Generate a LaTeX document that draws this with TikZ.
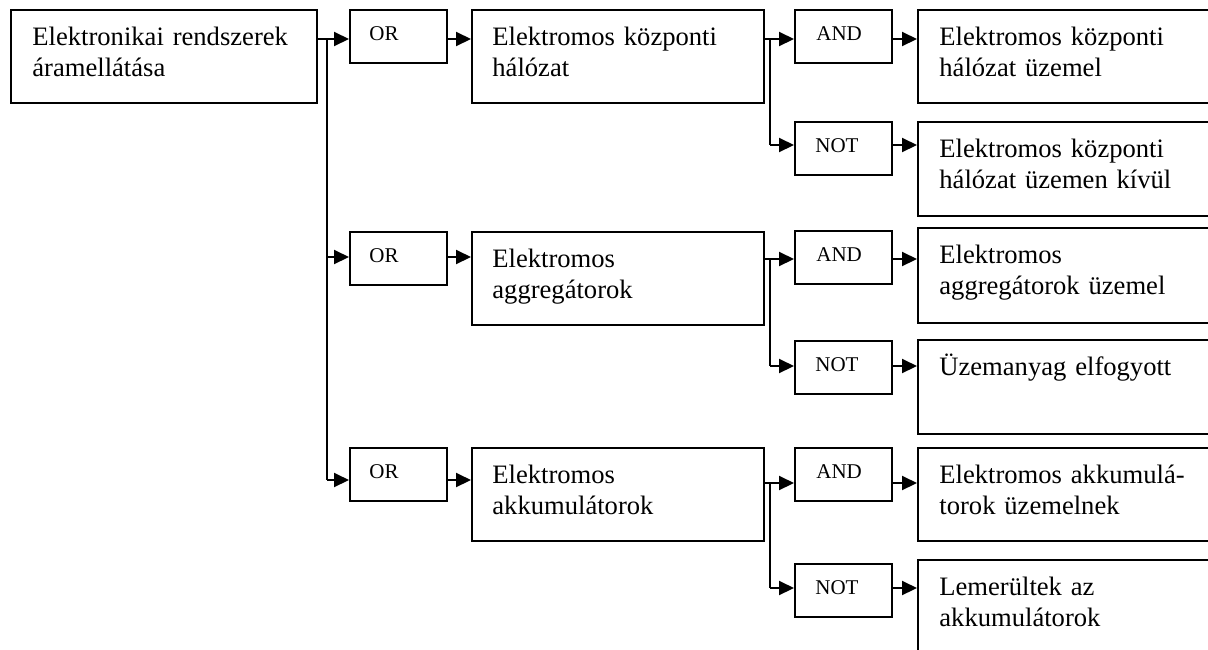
\documentclass[tikz,border=0pt]{standalone}
\usepackage{fontspec}
\setmainfont{Liberation Serif}
\usetikzlibrary{arrows.meta}

\begin{document}
\begin{tikzpicture}[x=0.5pt,y=-0.5pt,
  box/.style={draw, line width=1pt, rectangle, inner sep=0pt, anchor=north west},
  bigbox/.style={box, minimum width=#1, minimum height=46.5pt},
  gate/.style={box, minimum width=48.5pt, minimum height=26.5pt},
  txt/.style={anchor=base west, inner sep=0pt, text width=150pt, align=left,
    font=\fontsize{13.3}{15.5}\selectfont},
  gtxt/.style={anchor=base west, inner sep=0pt, font=\fontsize{10.5}{12}\selectfont},
  wire/.style={line width=1pt},
  arr/.style={line width=1pt, -{Triangle[length=7.5pt,width=7pt]}}]

\useasboundingbox (0,0) rectangle (1208,649);

% arrow levels of each row
\coordinate (lA)  at (0,39);
\coordinate (lAn) at (0,145);
\coordinate (lBo) at (0,257);
\coordinate (lBa) at (0,259);
\coordinate (lBn) at (0,366);
\coordinate (lCo) at (0,480);
\coordinate (lCa) at (0,483);
\coordinate (lCn) at (0,588);
% vertical trunks
\coordinate (trunk) at (327,0);
\coordinate (brA) at (770,0);

% source
\node[bigbox=153pt] (src) at (10,9) {};
\node[txt] (srcT) at ([shift={(22,36)}]src.north west) {Elektronikai rendszerek\\áramellátása};

% OR gates
\node[gate] (orA) at (349,9) {};
\node[gtxt] (orAT) at ([shift={(20,31)}]orA.north west) {OR};
\node[gate] (orB) at (349,231) {};
\node[gtxt] (orBT) at ([shift={(20,31)}]orB.north west) {OR};
\node[gate] (orC) at (349,447) {};
\node[gtxt] (orCT) at ([shift={(20,31)}]orC.north west) {OR};

% subsystems
\node[bigbox=146pt] (midA) at (471,9) {};
\node[txt] (midAT) at ([shift={(21,36)}]midA.north west) {Elektromos központi\\hálózat};
\node[bigbox=146pt] (midB) at (471,231) {};
\node[txt] (midBT) at ([shift={(21,36)}]midB.north west) {Elektromos\\aggregátorok};
\node[bigbox=146pt] (midC) at (471,447) {};
\node[txt] (midCT) at ([shift={(21,36)}]midC.north west) {Elektromos\\akkumulátorok};

% AND / NOT gates
\node[gate] (andA) at (794,9) {};
\node[gtxt] (andAT) at ([shift={(22,31)}]andA.north west) {AND};
\node[gate] (notA) at (794,121) {};
\node[gtxt] (notAT) at ([shift={(21,31)}]notA.north west) {NOT};
\node[gate] (andB) at (794,230) {};
\node[gtxt] (andBT) at ([shift={(22,31)}]andB.north west) {AND};
\node[gate] (notB) at (794,340) {};
\node[gtxt] (notBT) at ([shift={(21,31)}]notB.north west) {NOT};
\node[gate] (andC) at (794,447) {};
\node[gtxt] (andCT) at ([shift={(22,31)}]andC.north west) {AND};
\node[gate] (notC) at (794,563) {};
\node[gtxt] (notCT) at ([shift={(21,31)}]notC.north west) {NOT};

% states
\node[box, minimum width=153pt, minimum height=46.5pt] (finA) at (917,9) {};
\node[txt] (finAT) at ([shift={(22,36)}]finA.north west) {Elektromos központi\\hálózat üzemel};
\node[box, minimum width=153pt, minimum height=47pt] (finAn) at (917,121) {};
\node[txt] (finAnT) at ([shift={(22,36)}]finAn.north west) {Elektromos központi\\hálózat üzemen kívül};
\node[box, minimum width=153pt, minimum height=47.5pt] (finB) at (917,227) {};
\node[txt] (finBT) at ([shift={(22,36)}]finB.north west) {Elektromos\\aggregátorok üzemel};
\node[box, minimum width=153pt, minimum height=47pt] (finBn) at (917,339) {};
\node[txt] (finBnT) at ([shift={(22,36)}]finBn.north west) {Üzemanyag elfogyott};
\node[box, minimum width=153pt, minimum height=46.5pt] (finC) at (917,447) {};
\node[txt] (finCT) at ([shift={(22,36)}]finC.north west) {Elektromos akkumulá-\\torok üzemelnek};
\node[box, minimum width=153pt, minimum height=50pt] (finCn) at (917,559) {};
\node[txt] (finCnT) at ([shift={(22,36)}]finCn.north west) {Lemerültek az\\akkumulátorok};

% source to OR gates
\draw[arr] (src.east |- lA) -- (orA.west |- lA);
\draw[wire] (trunk |- lA) -- (trunk |- lCo);
\draw[arr] (trunk |- lBo) -- (orB.west |- lBo);
\draw[arr] (trunk |- lCo) -- (orC.west |- lCo);

% OR gates to subsystems
\draw[arr] (orA.east |- lA) -- (midA.west |- lA);
\draw[arr] (orB.east |- lBo) -- (midB.west |- lBo);
\draw[arr] (orC.east |- lCo) -- (midC.west |- lCo);

% subsystems to AND / NOT gates
\draw[arr] (midA.east |- lA) -- (andA.west |- lA);
\draw[wire] (brA |- lA) -- (brA |- lAn);
\draw[arr] (brA |- lAn) -- (notA.west |- lAn);

\draw[arr] (midB.east |- lBa) -- (andB.west |- lBa);
\draw[wire] (brA |- lBa) -- (brA |- lBn);
\draw[arr] (brA |- lBn) -- (notB.west |- lBn);

\draw[arr] (midC.east |- lCa) -- (andC.west |- lCa);
\draw[wire] (brA |- lCa) -- (brA |- lCn);
\draw[arr] (brA |- lCn) -- (notC.west |- lCn);

% gates to states
\draw[arr] (andA.east |- lA) -- (finA.west |- lA);
\draw[arr] (notA.east |- lAn) -- (finAn.west |- lAn);
\draw[arr] (andB.east |- lBa) -- (finB.west |- lBa);
\draw[arr] (notB.east |- lBn) -- (finBn.west |- lBn);
\draw[arr] (andC.east |- lCa) -- (finC.west |- lCa);
\draw[arr] (notC.east |- lCn) -- (finCn.west |- lCn);

\end{tikzpicture}
\end{document}
